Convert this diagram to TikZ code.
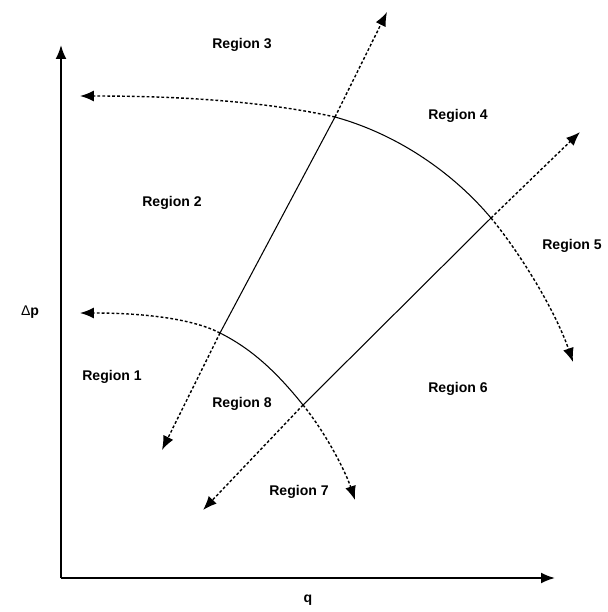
\documentclass[tikz,border=0pt]{standalone}
\usepackage{fontspec}
\setmainfont{Liberation Sans}
\usetikzlibrary{arrows.meta}

\begin{document}
\begin{tikzpicture}[
  x=0.02cm, y=-0.02cm,
  axis/.style={line width=1.1pt, -{Latex[length=2.8mm,width=2.2mm]}},
  edge/.style={line width=0.6pt},
  trail/.style={line width=0.8pt, dash pattern=on 1.6pt off 1.2pt},
  tip/.style={-{Latex[length=2.8mm,width=2.2mm]}},
  region/.style={font=\fontsize{8}{9.6}\selectfont\bfseries, inner sep=0pt}
]
\useasboundingbox (0,0) rectangle (608,612);
% axes
\coordinate (O) at (61,578);
\coordinate (ytop) at (61,45);
\coordinate (xend) at (555,578);
\draw[axis] (O) -- (ytop);
\draw[axis] (O) -- (xend);
\node[region, font=\fontsize{8}{9.6}\selectfont] (dp) at (30,312) {Δ\textbf{p}};
\node[region] (q) at (308,600) {q};
% corners of the operating area
\coordinate (A) at (335,117);
\coordinate (B) at (491,218);
\coordinate (C) at (303,405);
\coordinate (D) at (220,333);
% free ends
\coordinate (upL) at (80,96);
\coordinate (upR) at (573,362);
\coordinate (loL) at (80,313);
\coordinate (loR) at (355,500);
\coordinate (lnUp) at (387,12);
\coordinate (lnDn) at (162,450);
\coordinate (rnUp) at (580,132);
\coordinate (rnDn) at (203,510);
% solid boundary
\draw[edge] (A) .. controls (400,135) and (455,175) .. (B);
\draw[edge] (D) .. controls (250,348) and (275,370) .. (C);
\draw[edge] (D) -- (A);
\draw[edge] (C) -- (B);
% dotted extensions
\draw[trail, tip] (A) .. controls (250,98) and (150,96) .. (upL);
\draw[trail, tip] (B) .. controls (520,253) and (555,310) .. (upR);
\draw[trail, tip] (D) .. controls (195,320) and (150,313) .. (loL);
\draw[trail, tip] (C) .. controls (325,432) and (345,470) .. (loR);
\draw[trail, tip] (A) -- (lnUp);
\draw[trail, tip] (D) -- (lnDn);
\draw[trail, tip] (B) -- (rnUp);
\draw[trail, tip] (C) -- (rnDn);
% regions
\node[region] (r1) at (112,377) {Region 1};
\node[region] (r2) at (172,203) {Region 2};
\node[region] (r3) at (242,45) {Region 3};
\node[region] (r4) at (458,116) {Region 4};
\node[region] (r5) at (572,246) {Region 5};
\node[region] (r6) at (458,389) {Region 6};
\node[region] (r7) at (299,492) {Region 7};
\node[region] (r8) at (242,404) {Region 8};
\end{tikzpicture}
\end{document}
